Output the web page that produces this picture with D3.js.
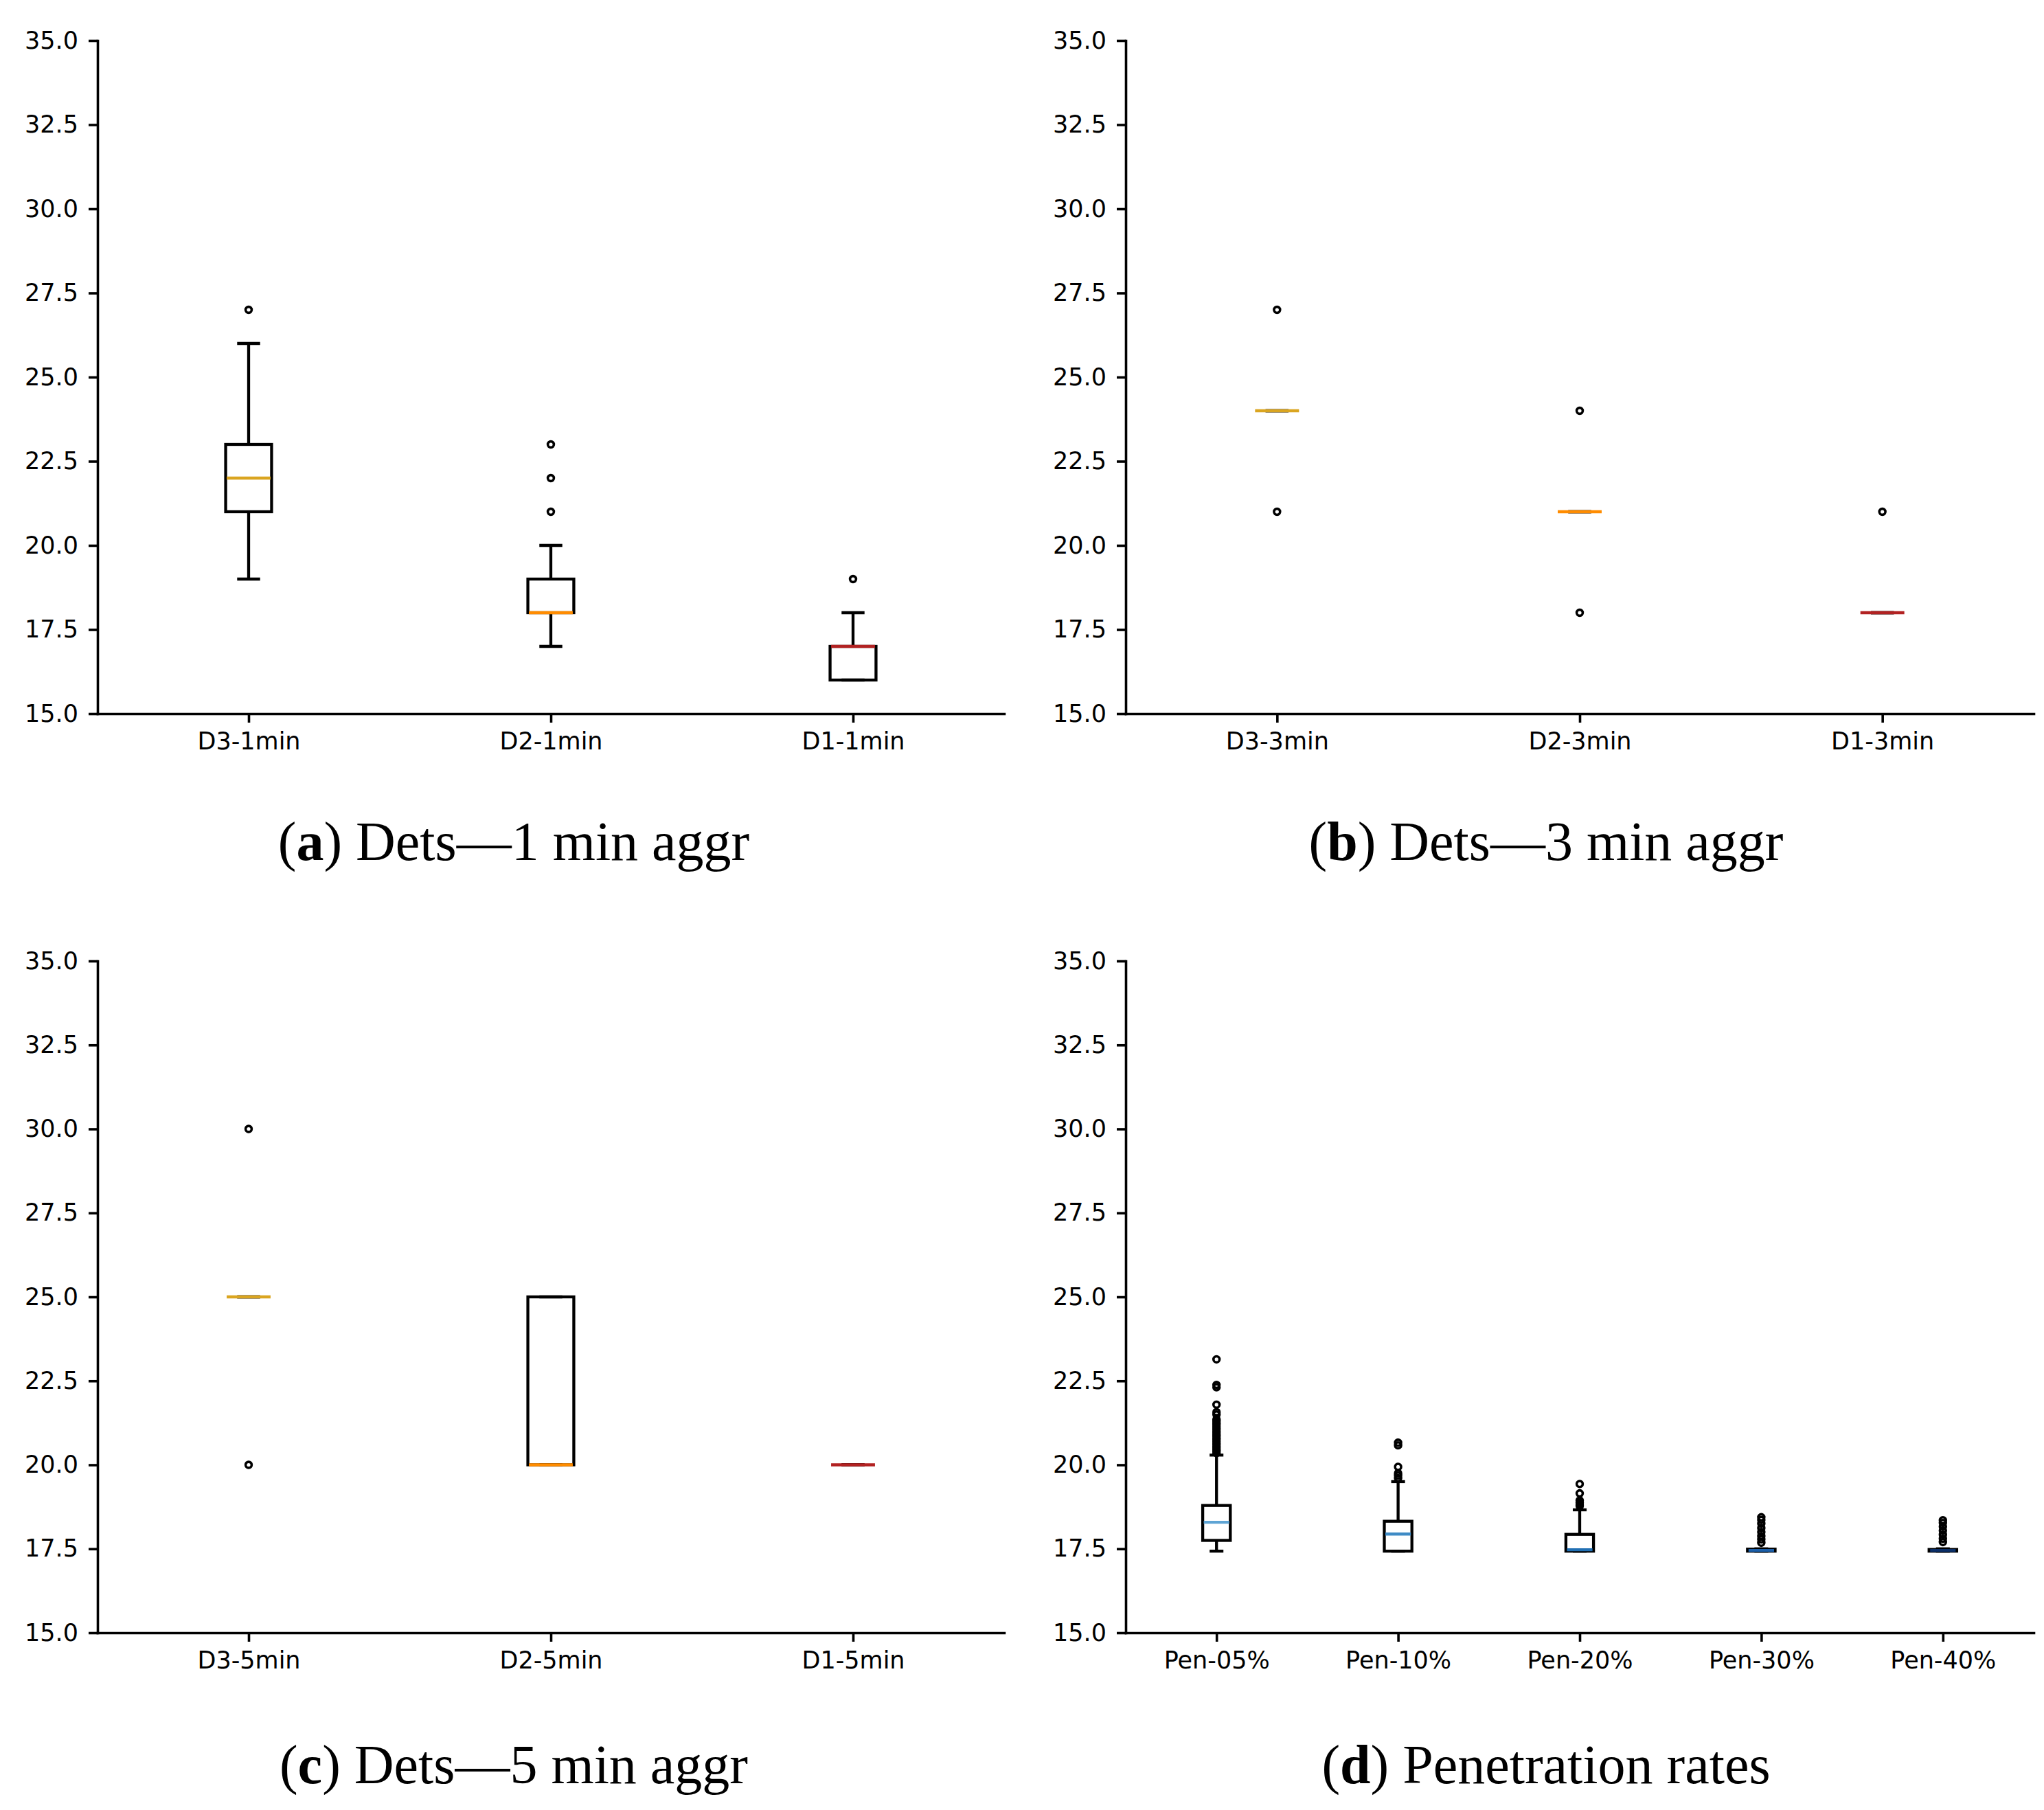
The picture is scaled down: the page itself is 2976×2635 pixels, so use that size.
<!DOCTYPE html>
<html>
<head>
<meta charset="utf-8">
<script src="https://cdn.jsdelivr.net/npm/d3@7"></script>
<style>
  html, body { margin: 0; padding: 0; background: #fff; }
  svg { display: block; }
</style>
</head>
<body>
<script>
// ---------------- DATA ----------------
const yTickValues = [15.0, 17.5, 20.0, 22.5, 25.0, 27.5, 30.0, 32.5, 35.0];

const catsA = ["D3-1min", "D2-1min", "D1-1min"];
const lowA  = [19, 17, 16];
const q1A   = [21, 18, 16];
const medA  = [22, 18, 17];
const q3A   = [23, 19, 17];
const highA = [26, 20, 18];
const fliersA = [[27], [21, 22, 23], [19]];

const catsB = ["D3-3min", "D2-3min", "D1-3min"];
const lowB  = [24, 21, 18];
const q1B   = [24, 21, 18];
const medB  = [24, 21, 18];
const q3B   = [24, 21, 18];
const highB = [24, 21, 18];
const fliersB = [[27, 21], [24, 18], [21]];

const catsC = ["D3-5min", "D2-5min", "D1-5min"];
const lowC  = [25, 20, 20];
const q1C   = [25, 20, 20];
const medC  = [25, 20, 20];
const q3C   = [25, 25, 20];
const highC = [25, 25, 20];
const fliersC = [[30, 20], [], []];

const catsD = ["Pen-05%", "Pen-10%", "Pen-20%", "Pen-30%", "Pen-40%"];
const lowD  = [17.43, 17.43, 17.43, 17.43, 17.43];
const q1D   = [17.75, 17.43, 17.43, 17.43, 17.43];
const medD  = [18.29, 17.94, 17.47, 17.45, 17.45];
const q3D   = [18.79, 18.32, 17.93, 17.49, 17.48];
const highD = [20.29, 19.50, 18.66, 17.50, 17.50];
const fliersD = [
  [23.14, 22.38, 22.31, 21.79, 21.57, 21.50, 21.35, 21.30, 21.25, 21.20, 21.15, 21.10, 21.05,
   21.00, 20.95, 20.90, 20.85, 20.80, 20.75, 20.70, 20.65, 20.60, 20.55, 20.50, 20.45, 20.40, 20.35],
  [20.66, 20.58, 19.94, 19.75, 19.68, 19.60],
  [19.43, 19.15, 18.94, 18.88, 18.83, 18.78],
  [18.44, 18.36, 18.25, 18.12, 18.00, 17.88, 17.78, 17.68],
  [18.35, 18.27, 18.16, 18.04, 17.92, 17.80, 17.70]
];

const medianColorsDets = ["#DAA520", "#FF8C00", "#B22222"];
const medianColorsPen  = ["#5ea4d4", "#3f8bc5", "#2170b4", "#1c5fa9", "#0b2f68"];

const captionLetters = ["a", "b", "c", "d"];
const captionTexts = [" Dets\u20141 min aggr", " Dets\u20143 min aggr", " Dets\u20145 min aggr", " Penetration rates"];

// ---------------- LAYOUT ----------------
const W = 2976, H = 2635;
const svg = d3.select("body").append("svg").attr("width", W).attr("height", H)
  .style("background", "#fff");

const panels = [
  { cats: catsA, low: lowA, q1: q1A, med: medA, q3: q3A, high: highA, fliers: fliersA, colors: medianColorsDets,
    x0: 142, x1: 1462, yTop: 59, yBot: 1039, capX: 748, capY: 1252 },
  { cats: catsB, low: lowB, q1: q1B, med: medB, q3: q3B, high: highB, fliers: fliersB, colors: medianColorsDets,
    x0: 1639, x1: 2961, yTop: 59, yBot: 1039, capX: 2251, capY: 1252 },
  { cats: catsC, low: lowC, q1: q1C, med: medC, q3: q3C, high: highC, fliers: fliersC, colors: medianColorsDets,
    x0: 142, x1: 1462, yTop: 1399, yBot: 2377, capX: 748, capY: 2596 },
  { cats: catsD, low: lowD, q1: q1D, med: medD, q3: q3D, high: highD, fliers: fliersD, colors: medianColorsPen,
    x0: 1639, x1: 2961, yTop: 1399, yBot: 2377, capX: 2251, capY: 2596 }
];

const LW = 3.6;   // spines / ticks
const BLW = 4.3;  // box elements
const tickFont = "'DejaVu Sans', sans-serif";

panels.forEach((p, pi) => {
  const g = svg.append("g");
  const y = d3.scaleLinear().domain([15, 35]).range([p.yBot, p.yTop]);
  const x = d3.scalePoint().domain(p.cats).range([p.x0, p.x1]).padding(0.5);
  const step = x.step();
  const bw = step * 0.152;
  const cw = bw / 2;

  // axes
  const ax = g.append("g").attr("transform", `translate(${p.x0},0)`)
    .call(d3.axisLeft(y).tickValues(yTickValues).tickFormat(d3.format(".1f")).tickSize(13).tickSizeOuter(0).tickPadding(15));
  const bx = g.append("g").attr("transform", `translate(0,${p.yBot})`)
    .call(d3.axisBottom(x).tickSize(13).tickSizeOuter(0).tickPadding(14));
  [ax, bx].forEach(a => {
    a.select(".domain").attr("stroke", "#000").attr("stroke-width", LW).attr("stroke-linecap", "square");
    a.selectAll(".tick line").attr("stroke", "#000").attr("stroke-width", LW);
    a.selectAll(".tick text").attr("fill", "#000").style("font-family", tickFont).style("font-size", "35px");
  });

  // boxes
  p.cats.forEach((c, i) => {
    const cx = x(c);
    const bg = g.append("g");
    // whiskers
    bg.append("line").attr("x1", cx).attr("x2", cx).attr("y1", y(p.q3[i])).attr("y2", y(p.high[i]))
      .attr("stroke", "#000").attr("stroke-width", BLW);
    bg.append("line").attr("x1", cx).attr("x2", cx).attr("y1", y(p.q1[i])).attr("y2", y(p.low[i]))
      .attr("stroke", "#000").attr("stroke-width", BLW);
    // caps
    bg.append("line").attr("x1", cx - cw / 2).attr("x2", cx + cw / 2).attr("y1", y(p.high[i])).attr("y2", y(p.high[i]))
      .attr("stroke", "#000").attr("stroke-width", BLW);
    bg.append("line").attr("x1", cx - cw / 2).attr("x2", cx + cw / 2).attr("y1", y(p.low[i])).attr("y2", y(p.low[i]))
      .attr("stroke", "#000").attr("stroke-width", BLW);
    // box
    bg.append("rect").attr("x", cx - bw / 2).attr("width", bw)
      .attr("y", y(p.q3[i])).attr("height", Math.max(0, y(p.q1[i]) - y(p.q3[i])))
      .attr("fill", "none").attr("stroke", "#000").attr("stroke-width", BLW);
    // median
    bg.append("line").attr("x1", cx - bw / 2 + 1.5).attr("x2", cx + bw / 2 - 1.5)
      .attr("y1", y(p.med[i])).attr("y2", y(p.med[i]))
      .attr("stroke", p.colors[i]).attr("stroke-width", BLW);
    // fliers
    bg.selectAll("circle").data(p.fliers[i]).join("circle")
      .attr("cx", cx).attr("cy", d => y(d)).attr("r", 4.4)
      .attr("fill", "none").attr("stroke", "#000").attr("stroke-width", 3.6);
  });

  // caption
  const t = svg.append("text").attr("x", p.capX).attr("y", p.capY).attr("text-anchor", "middle")
    .style("font-family", "'Liberation Serif', 'DejaVu Serif', serif").style("font-size", "80px").attr("fill", "#000");
  t.append("tspan").text("(");
  t.append("tspan").attr("font-weight", "bold").text(captionLetters[pi]);
  t.append("tspan").text(")" + captionTexts[pi]);
});
</script>
</body>
</html>
